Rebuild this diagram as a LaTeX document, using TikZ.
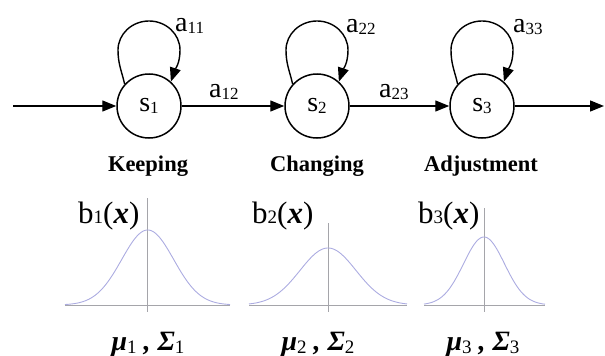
\documentclass[tikz,border=0pt]{standalone}
\usepackage{fontspec}
\setmainfont{Liberation Serif}
\usetikzlibrary{arrows.meta,calc}
\newcommand{\sbs}[1]{\raisebox{-2.5pt}{\fontsize{17}{17}\selectfont #1}}
\newcommand{\bsb}[1]{{\fontsize{19}{19}\selectfont #1}}
\newcommand{\msb}[1]{\raisebox{-3pt}{\fontsize{19}{19}\selectfont\upshape\mdseries #1}}
\newcommand{\myloop}[1]{\draw[arr] (#1.138) .. controls +(-3,-13) and +(0,14) .. ($(#1)+(-31,-56)$) .. controls +(0,-16) and +(-17,0) .. ($(#1)+(0,-85)$) .. controls +(17,0) and +(0,-16) .. ($(#1)+(31,-56)$) .. controls +(0,14) and +(4,-12) .. (#1.48);}
\definecolor{bellc}{RGB}{172,172,225}
\definecolor{axisc}{RGB}{165,165,170}
\tikzset{
  state/.style={draw, circle, line width=1.5pt, minimum size=64pt, inner sep=0pt, font=\fontsize{28}{30}\selectfont},
  arr/.style={line width=1.4pt, -{Triangle[length=14pt,width=11pt]}},
  lab/.style={anchor=base west, inner sep=0pt, font=\fontsize{28}{30}\selectfont},
  tag/.style={anchor=base, inner sep=0pt, font=\fontsize{22.5}{24}\selectfont\bfseries},
  blab/.style={anchor=base west, inner sep=0pt, font=\fontsize{31}{33}\selectfont},
  mlab/.style={anchor=base, inner sep=0pt, font=\fontsize{28}{30}\selectfont\bfseries\itshape},
  bell/.style={color=bellc, line width=0.9pt},
  ax/.style={color=axisc, line width=0.7pt}
}
\begin{document}
\begin{tikzpicture}[x=1pt,y=-1pt]
\useasboundingbox (0,0) rectangle (605,356);
% states
\node[state] (s1) at (149,106) {s\sbs{1}};
\node[state] (s2) at (317,106) {s\sbs{2}};
\node[state] (s3) at (482,106) {s\sbs{3}};
\coordinate (in) at (13,106);
\coordinate (out) at (604,106);
% transitions
\draw[arr] (in) -- (s1);
\draw[arr] (s1) -- (s2);
\draw[arr] (s2) -- (s3);
\draw[arr] (s3) -- (out);
\myloop{s1}
\myloop{s2}
\myloop{s3}
% transition labels
\node[lab] (a11) at (175,31) {a\sbs{11}};
\node[lab] (a22) at (346,32) {a\sbs{22}};
\node[lab] (a33) at (513,32) {a\sbs{33}};
\node[lab] (a12) at (209,97) {a\sbs{12}};
\node[lab] (a23) at (379,97) {a\sbs{23}};
% state names
\node[tag] (k1) at (148,171) {Keeping};
\node[tag] (k2) at (317,171) {Changing};
\node[tag] (k3) at (481,171) {Adjustment};
% gaussians
\draw[ax] (65,305) -- (230,305);
\draw[ax] (147.7,198) -- (147.7,312);
\draw[bell] plot[domain=65:230, samples=120, smooth] (\x, {305-75*exp(-((\x-147.7)*(\x-147.7))/1352)});
\draw[ax] (249,305) -- (407,305);
\draw[ax] (328,223) -- (328,312);
\draw[bell] plot[domain=249:407, samples=120, smooth] (\x, {305-57*exp(-((\x-328)*(\x-328))/1568)});
\draw[ax] (424,305) -- (545,305);
\draw[ax] (484,208) -- (484,312);
\draw[bell] plot[domain=424:545, samples=120, smooth] (\x, {305-68*exp(-((\x-484)*(\x-484))/840)});
% emission labels
\node[blab] (b1) at (78,223) {b\bsb{1}(\textbf{\textit{x}})};
\node[blab] (b2) at (252,223) {b\bsb{2}(\textbf{\textit{x}})};
\node[blab] (b3) at (418,223) {b\bsb{3}(\textbf{\textit{x}})};
\node[mlab] (m1) at (148,350) {μ\msb{1} , Σ\msb{1}};
\node[mlab] (m2) at (318,350) {μ\msb{2} , Σ\msb{2}};
\node[mlab] (m3) at (483,350) {μ\msb{3} , Σ\msb{3}};
\end{tikzpicture}
\end{document}
